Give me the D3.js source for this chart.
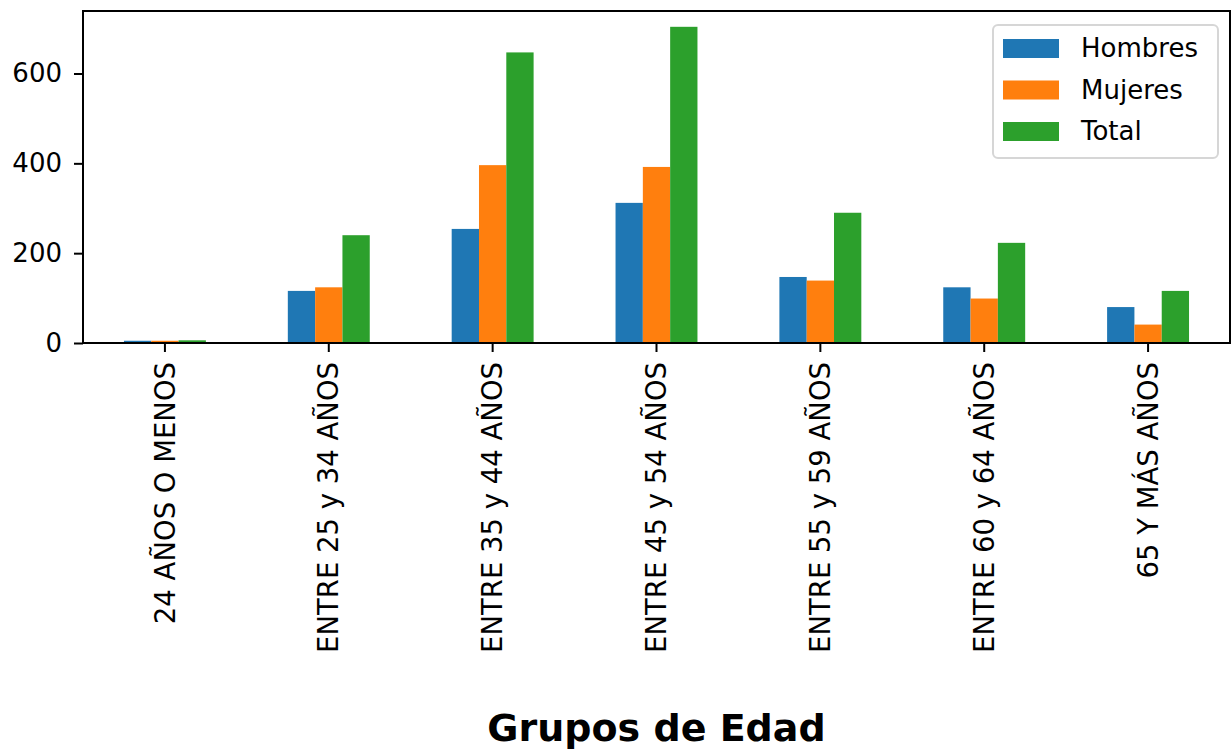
<!doctype html>
<html lang="es">
<head>
  <meta charset="utf-8">
  <title>Grupos de Edad</title>
  <style>
    body { margin: 0; background: #fff; }
    text { font-family: "DejaVu Sans", sans-serif; }
  </style>
</head>
<body>
  <div id="vis"></div>

  <script src="https://d3js.org/d3.v7.min.js"></script>
  <script>
    const grupos = ['24 AÑOS O MENOS', 'ENTRE 25 y 34 AÑOS', 'ENTRE 35 y 44 AÑOS',
                    'ENTRE 45 y 54 AÑOS', 'ENTRE 55 y 59 AÑOS', 'ENTRE 60 y 64 AÑOS', '65 Y MÁS AÑOS'];
    const series = ['Hombres', 'Mujeres', 'Total'];
    const hombres = [5, 116, 254, 312, 147, 124, 80];
    const mujeres = [5, 124, 396, 392, 139, 99, 41];
    const total = [6, 240, 647, 704, 290, 223, 116];
    const yTicks = [0, 200, 400, 600];
    const colores = ['#1f77b4', '#ff7f0e', '#2ca02c'];

    const w = 1232, h = 749;
    const m = { left: 83, right: 2, top: 11, bottom: 406 };
    const valores = [hombres, mujeres, total];

    const svg = d3.select('#vis')
      .append('svg')
        .attr('width', w)
        .attr('height', h);

    const x = d3.scaleBand()
      .domain(grupos)
      .range([m.left, w - m.right])
      .paddingInner(0.5)
      .paddingOuter(0.25);

    const xs = d3.scaleBand()
      .domain(series)
      .range([0, x.bandwidth()]);

    const y = d3.scaleLinear()
      .domain([0, d3.max(total) * 1.05])
      .range([h - m.bottom, m.top]);

    // barras
    series.forEach((s, i) => {
      svg.append('g')
        .selectAll('rect')
        .data(valores[i])
        .join('rect')
          .attr('x', (d, j) => x(grupos[j]) + xs(s))
          .attr('y', d => y(d))
          .attr('width', xs.bandwidth())
          .attr('height', d => y(0) - y(d))
          .attr('fill', colores[i]);
    });

    // eje y
    const yAxis = svg.append('g')
      .attr('transform', `translate(${m.left},0)`)
      .call(d3.axisLeft(y).tickValues(yTicks).tickSize(9).tickPadding(12));
    yAxis.select('.domain').remove();
    yAxis.selectAll('line').attr('stroke', '#000').attr('stroke-width', 2);
    yAxis.selectAll('text')
      .attr('font-size', 26)
      .attr('fill', '#000')
      .style('font-family', '"DejaVu Sans", sans-serif');

    // eje x
    const xAxis = svg.append('g')
      .attr('transform', `translate(0,${h - m.bottom})`)
      .call(d3.axisBottom(x).tickSize(9).tickPadding(8));
    xAxis.select('.domain').remove();
    xAxis.selectAll('line').attr('stroke', '#000').attr('stroke-width', 2);
    xAxis.selectAll('text')
      .attr('font-size', 27.5)
      .attr('fill', '#000')
      .style('font-family', '"DejaVu Sans", sans-serif')
      .attr('text-anchor', 'end')
      .attr('transform', 'translate(0,19) rotate(-90)')
      .attr('x', 0)
      .attr('y', 0)
      .attr('dy', '0.35em');

    // marco
    svg.append('rect')
      .attr('x', m.left)
      .attr('y', m.top)
      .attr('width', w - m.right - m.left)
      .attr('height', h - m.bottom - m.top)
      .attr('fill', 'none')
      .attr('stroke', '#000')
      .attr('stroke-width', 2);

    // titulo eje x
    svg.append('text')
      .attr('x', (m.left + w - m.right) / 2)
      .attr('y', 741)
      .attr('text-anchor', 'middle')
      .attr('font-size', 38)
      .attr('font-weight', 'bold')
      .text('Grupos de Edad');

    // leyenda
    const leg = svg.append('g');
    leg.append('rect')
      .attr('x', 993)
      .attr('y', 25)
      .attr('width', 225)
      .attr('height', 133)
      .attr('rx', 5)
      .attr('fill', '#fff')
      .attr('fill-opacity', 0.8)
      .attr('stroke', '#d6d6d6')
      .attr('stroke-width', 2);

    series.forEach((s, i) => {
      const cy = 48 + i * 41.5;
      leg.append('rect')
        .attr('x', 1003)
        .attr('y', cy - 9)
        .attr('width', 56)
        .attr('height', 19)
        .attr('fill', colores[i]);
      leg.append('text')
        .attr('x', 1081)
        .attr('y', cy)
        .attr('dy', '0.35em')
        .attr('font-size', 26)
        .attr('fill', '#000')
        .text(s);
    });
  </script>
</body>
</html>
